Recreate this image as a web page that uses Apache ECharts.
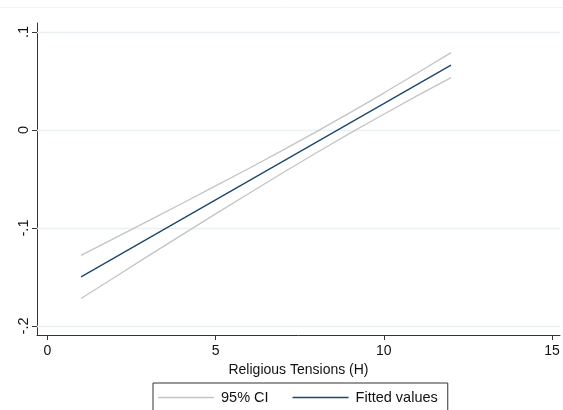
<!DOCTYPE html>
<html>
<head>
<meta charset="utf-8">
<script src="https://cdn.jsdelivr.net/npm/echarts@6/dist/echarts.min.js"></script>
<style>
  html, body { margin: 0; padding: 0; background: #ffffff; }
  #chart { width: 563px; height: 410px; }
</style>
</head>
<body>
<div id="chart"></div>
<script>
// Religious tensions (H) and the linear fit with its 95% confidence band
const tensions = [1, 2, 3, 4, 5, 6, 7, 8, 9, 10, 11, 12];
const fitted   = [-0.1499, -0.1303, -0.1106, -0.0910, -0.0713, -0.0517, -0.0320, -0.0124, 0.0073, 0.0269, 0.0466, 0.0662];
const ciUpper  = [-0.1279, -0.1104, -0.0927, -0.0750, -0.0570, -0.0390, -0.0205, -0.0016, 0.0178, 0.0377, 0.0582, 0.0790];
const ciLower  = [-0.1719, -0.1502, -0.1285, -0.1070, -0.0856, -0.0645, -0.0436, -0.0232, -0.0032, 0.0161, 0.0351, 0.0535];

const xTicks = [0, 5, 10, 15];
const yTicks = [0.1, 0, -0.1, -0.2];
const yTickLabels = ['.1', '0', '-.1', '-.2'];

const pairs = (xs, ys) => xs.map((x, i) => [x, ys[i]]);
const FONT = 'Liberation Sans, Arial, sans-serif';
const LINE_ICON = 'rect';

const chart = echarts.init(document.getElementById('chart'), null, { renderer: 'canvas' });

chart.setOption({
  animation: false,
  backgroundColor: '#ffffff',
  textStyle: { fontFamily: FONT },
  grid: { left: 37, right: 3, top: 23, bottom: 75, containLabel: false },
  graphic: [{
    type: 'line',
    shape: { x1: 0, y1: 7.5, x2: 563, y2: 7.5 },
    style: { stroke: '#f2f4f4', lineWidth: 1 },
    silent: true
  }],
  xAxis: {
    type: 'value',
    min: -0.31,
    max: 15.24,
    name: 'Religious Tensions (H)',
    nameLocation: 'middle',
    nameGap: 25,
    nameTextStyle: { color: '#111', fontSize: 14, fontFamily: FONT },
    axisLine: { show: true, onZero: false, lineStyle: { color: '#333', width: 1 } },
    axisTick: { show: true, length: 5, lineStyle: { color: '#333' }, customValues: xTicks },
    axisLabel: { show: true, color: '#111', fontSize: 14, margin: 9, customValues: xTicks,
      formatter: v => String(v) },
    splitLine: { show: false }
  },
  yAxis: {
    type: 'value',
    min: -0.2092,
    max: 0.1092,
    axisLine: { show: true, onZero: false, lineStyle: { color: '#333', width: 1 } },
    axisTick: { show: true, length: 5, lineStyle: { color: '#333' }, customValues: yTicks },
    axisLabel: { show: true, color: '#111', fontSize: 14.5, margin: 6, rotate: 90,
      customValues: yTicks,
      formatter: v => {
        const i = yTicks.findIndex(t => Math.abs(t - v) < 1e-9);
        return i >= 0 ? yTickLabels[i] : '';
      } },
    splitLine: { show: false }
  },
  legend: {
    left: 153,
    top: 383,
    padding: [7, 10, 9, 5],
    icon: LINE_ICON,
    itemWidth: 56,
    itemHeight: 1.4,
    itemGap: 24,
    borderColor: '#333',
    borderWidth: 1,
    borderRadius: 0,
    backgroundColor: '#ffffff',
    textStyle: { color: '#111', fontSize: 14.5, fontFamily: FONT, padding: [0, 0, 0, 2] },
    data: ['95% CI', 'Fitted values']
  },
  series: [
    {
      name: '95% CI',
      type: 'line',
      data: pairs(tensions, ciUpper),
      symbol: 'none',
      lineStyle: { color: '#c4c4c4', width: 1.3 },
      itemStyle: { color: '#c4c4c4' },
      z: 2,
      markLine: {
        silent: true,
        symbol: 'none',
        label: { show: false },
        lineStyle: { color: '#eaf1f2', width: 1.3, type: 'solid' },
        data: yTicks.map(v => ({ yAxis: v })),
        z: 1
      }
    },
    {
      name: '95% CI',
      type: 'line',
      data: pairs(tensions, ciLower),
      symbol: 'none',
      lineStyle: { color: '#c4c4c4', width: 1.3 },
      itemStyle: { color: '#c4c4c4' },
      z: 2
    },
    {
      name: 'Fitted values',
      type: 'line',
      data: pairs(tensions, fitted),
      symbol: 'none',
      lineStyle: { color: '#1a476f', width: 1.3 },
      itemStyle: { color: '#1a476f' },
      z: 3
    }
  ]
});
</script>
</body>
</html>
